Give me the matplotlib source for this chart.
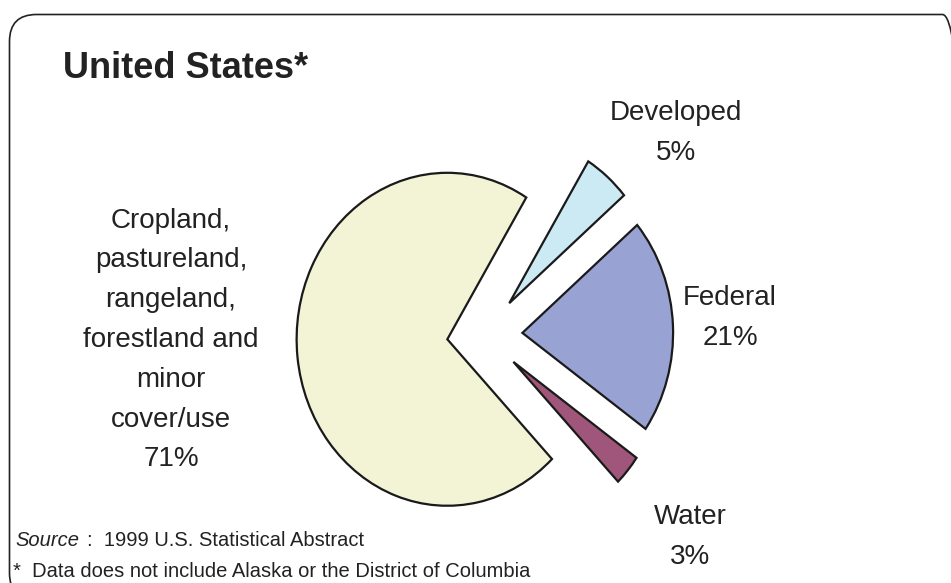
import matplotlib
matplotlib.use("Agg")
import matplotlib.pyplot as plt
from matplotlib.patches import FancyBboxPatch

plt.rcParams['font.family'] = ['Liberation Sans', 'DejaVu Sans']

# data (counter-clockwise from the lower right)
categories = ['Water', 'Federal', 'Developed',
              'Cropland,\npastureland,\nrangeland,\nforestland and\nminor\ncover/use']
shares = [3, 21, 5, 71]
colors = ['#a0557a', '#99a3d3', '#cceaf4', '#f3f3d5']

W, H = 951, 583
fig = plt.figure(figsize=(W / 100, H / 100), dpi=100)

def fx(x):
    return x / W

def fy(y):
    return 1 - y / H

# rounded frame around the whole chart (pixel coords)
frame = FancyBboxPatch((9.5, -17), 960, 585.5,
                       boxstyle="round,pad=0,rounding_size=27",
                       transform=None, facecolor='none',
                       edgecolor='#222222', linewidth=1.2)
fig.add_artist(frame)

# pie drawn in an axes that is slightly stretched vertically
ax = fig.add_axes([0, 0, 1, 1])
ax.pie(shares, colors=colors, explode=[0.25] * 4, startangle=-46,
       counterclock=True,
       wedgeprops=dict(edgecolor='#1a1a1a', linewidth=1.6))
ax.set_aspect('auto')
ax.set_xlim(-3.217, 3.094)
ax.set_ylim(-1.491, 2.011)
ax.axis('off')

# labels
label_pos = [(690, 537), (730, 318), (676, 133), (171, 340)]
for name, val, (x, y) in zip(categories, shares, label_pos):
    fig.text(fx(x), fy(y), '%s\n%d%%' % (name, val), ha='center', va='center',
             fontsize=20, color='#222222', linespacing=1.69)

fig.text(fx(63), fy(78), 'United States*', fontsize=26, fontweight='bold',
         color='#222222', ha='left', va='baseline')

fig.text(fx(15), fy(546), 'Source', fontsize=14.5, style='italic',
         color='#222222', ha='left', va='baseline')
fig.text(fx(87), fy(546), ':  1999 U.S. Statistical Abstract', fontsize=14.5,
         color='#222222', ha='left', va='baseline')
fig.text(fx(13), fy(577), '*  Data does not include Alaska or the District of Columbia',
         fontsize=14.5, color='#222222', ha='left', va='baseline')

fig.savefig('out.png', dpi=100)
